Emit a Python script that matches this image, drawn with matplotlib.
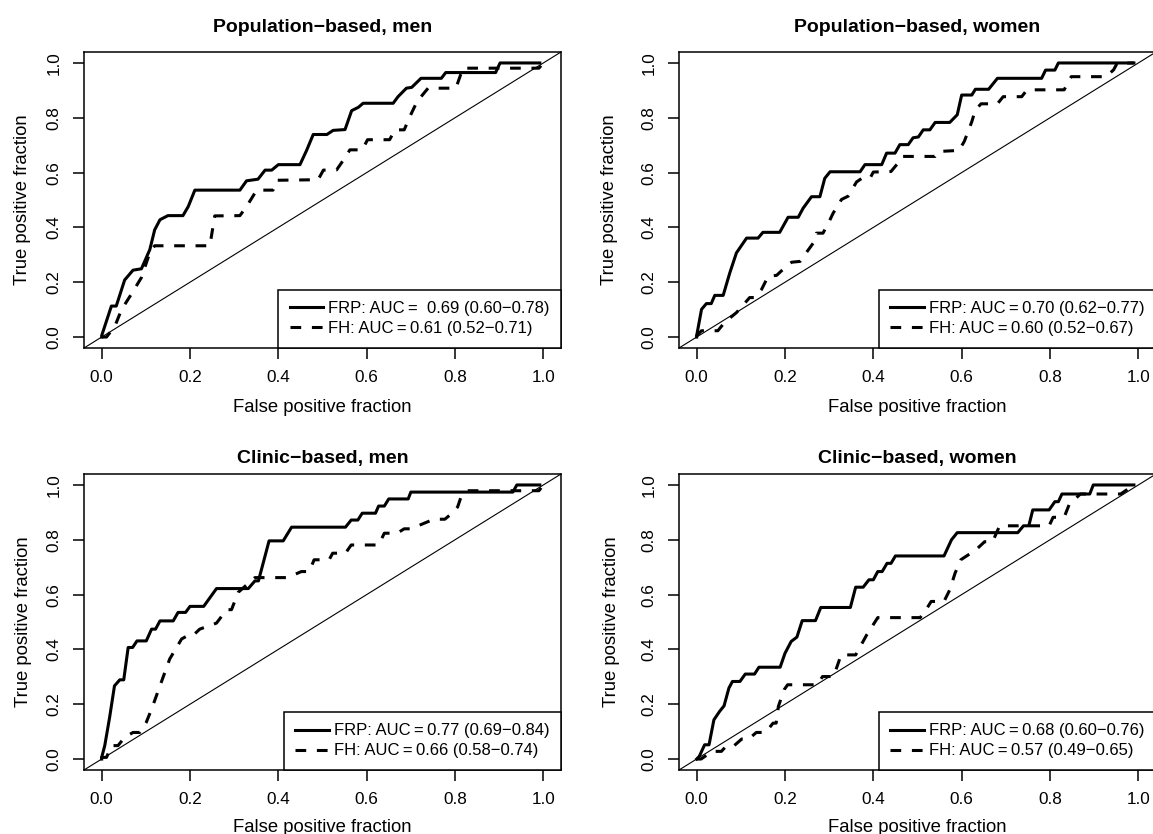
import matplotlib
matplotlib.use("Agg")
import matplotlib.pyplot as plt

plt.rcParams['font.family'] = ['Liberation Sans', 'DejaVu Sans']

# ROC points (false positive fraction, true positive fraction)
pm_frp_x = [0, 0.0, 0.022, 0.033, 0.052, 0.071, 0.09, 0.109, 0.12, 0.132, 0.15, 0.184, 0.196, 0.211,
            0.313, 0.328, 0.354, 0.37, 0.385, 0.40, 0.449, 0.464, 0.479, 0.51, 0.524, 0.551, 0.566,
            0.581, 0.592, 0.66, 0.671, 0.69, 0.702, 0.723, 0.769, 0.779, 0.892, 0.902, 0.992]
pm_frp_y = [0, 0.005, 0.113, 0.113, 0.208, 0.244, 0.249, 0.319, 0.391, 0.428, 0.443, 0.443, 0.476, 0.536,
            0.536, 0.57, 0.576, 0.609, 0.609, 0.629, 0.629, 0.681, 0.739, 0.739, 0.754, 0.757, 0.826,
            0.838, 0.853, 0.853, 0.877, 0.908, 0.911, 0.944, 0.944, 0.965, 0.965, 1.0, 1.0]
pm_fh_x = [0, 0.011, 0.03, 0.045, 0.067, 0.09, 0.109, 0.12, 0.245, 0.256, 0.313, 0.328, 0.351, 0.388,
           0.396, 0.49, 0.502, 0.532, 0.547, 0.562, 0.59, 0.602, 0.652, 0.664, 0.685, 0.698, 0.714,
           0.739, 0.802, 0.818, 0.99, 1.0]
pm_fh_y = [0, 0, 0.04, 0.10, 0.156, 0.217, 0.308, 0.333, 0.333, 0.442, 0.443, 0.476, 0.536, 0.536,
           0.572, 0.574, 0.609, 0.61, 0.645, 0.683, 0.683, 0.72, 0.72, 0.756, 0.756, 0.805, 0.859,
           0.908, 0.908, 0.981, 0.981, 1.0]

pw_frp_x = [0, 0.0, 0.011, 0.022, 0.033, 0.041, 0.06, 0.075, 0.09, 0.113, 0.139, 0.15, 0.188, 0.207,
            0.23, 0.241, 0.26, 0.279, 0.29, 0.302, 0.37, 0.381, 0.419, 0.43, 0.449, 0.46, 0.479, 0.49,
            0.502, 0.513, 0.528, 0.54, 0.573, 0.59, 0.60, 0.623, 0.631, 0.661, 0.681, 0.781, 0.79,
            0.811, 0.819, 0.99]
pw_frp_y = [0, 0.005, 0.101, 0.122, 0.122, 0.152, 0.152, 0.234, 0.307, 0.361, 0.361, 0.382, 0.382, 0.437,
            0.437, 0.47, 0.512, 0.512, 0.579, 0.603, 0.603, 0.629, 0.629, 0.671, 0.671, 0.702, 0.702,
            0.727, 0.73, 0.756, 0.756, 0.783, 0.783, 0.811, 0.883, 0.883, 0.904, 0.904, 0.944, 0.944,
            0.974, 0.974, 1.0, 1.0]
pw_fh_x = [0, 0.0, 0.011, 0.048, 0.063, 0.09, 0.12, 0.132, 0.147, 0.162, 0.181, 0.203, 0.215, 0.234,
           0.264, 0.271, 0.286, 0.298, 0.309, 0.328, 0.343, 0.362, 0.373, 0.392, 0.40, 0.44, 0.456,
           0.465, 0.54, 0.548, 0.594, 0.606, 0.623, 0.631, 0.644, 0.681, 0.694, 0.736, 0.748, 0.832,
           0.848, 0.927, 0.944, 0.952, 0.99]
pw_fh_y = [0, 0.005, 0.023, 0.023, 0.053, 0.089, 0.144, 0.144, 0.174, 0.222, 0.225, 0.258, 0.273, 0.276,
           0.343, 0.379, 0.379, 0.415, 0.452, 0.502, 0.514, 0.566, 0.578, 0.578, 0.602, 0.604, 0.635,
           0.659, 0.659, 0.677, 0.681, 0.714, 0.786, 0.829, 0.851, 0.851, 0.877, 0.877, 0.902, 0.902,
           0.95, 0.95, 0.975, 0.999, 1.0]

cm_frp_x = [0, 0.0, 0.007, 0.018, 0.029, 0.041, 0.05, 0.06, 0.07, 0.08, 0.101, 0.113, 0.122, 0.132,
            0.162, 0.173, 0.19, 0.20, 0.231, 0.26, 0.332, 0.347, 0.355, 0.379, 0.411, 0.43, 0.552,
            0.565, 0.58, 0.59, 0.62, 0.627, 0.64, 0.65, 0.694, 0.70, 0.931, 0.94, 0.992]
cm_frp_y = [0, 0.006, 0.049, 0.152, 0.267, 0.289, 0.289, 0.407, 0.407, 0.431, 0.431, 0.474, 0.474, 0.504,
            0.504, 0.535, 0.535, 0.557, 0.557, 0.622, 0.622, 0.65, 0.65, 0.796, 0.796, 0.846, 0.846,
            0.872, 0.872, 0.897, 0.897, 0.923, 0.923, 0.949, 0.949, 0.974, 0.974, 1.0, 1.0]
cm_fh_x = [0, 0.0, 0.011, 0.022, 0.037, 0.052, 0.071, 0.086, 0.101, 0.113, 0.132, 0.154, 0.181, 0.192,
           0.205, 0.222, 0.26, 0.283, 0.294, 0.309, 0.347, 0.419, 0.435, 0.452, 0.47, 0.481, 0.515,
           0.523, 0.552, 0.565, 0.627, 0.64, 0.669, 0.685, 0.70, 0.752, 0.777, 0.798, 0.806, 0.814,
           0.827, 0.99, 1.0]
cm_fh_y = [0, 0.006, 0.006, 0.049, 0.049, 0.079, 0.097, 0.097, 0.134, 0.182, 0.267, 0.365, 0.438, 0.448,
           0.448, 0.474, 0.496, 0.545, 0.545, 0.608, 0.662, 0.662, 0.672, 0.684, 0.684, 0.727, 0.727,
           0.751, 0.751, 0.781, 0.781, 0.824, 0.824, 0.84, 0.84, 0.875, 0.875, 0.903, 0.92, 0.958,
           0.979, 0.979, 1.0]

cw_frp_x = [0, 0.006, 0.018, 0.028, 0.039, 0.052, 0.062, 0.073, 0.081, 0.098, 0.11, 0.131, 0.141, 0.189,
            0.20, 0.214, 0.227, 0.239, 0.269, 0.281, 0.348, 0.36, 0.377, 0.39, 0.40, 0.41, 0.42, 0.431,
            0.44, 0.45, 0.56, 0.577, 0.59, 0.727, 0.74, 0.752, 0.761, 0.798, 0.811, 0.819, 0.827, 0.89,
            0.898, 0.99]
cw_frp_y = [0, 0.01, 0.052, 0.052, 0.143, 0.174, 0.194, 0.259, 0.283, 0.283, 0.31, 0.31, 0.335, 0.335,
            0.386, 0.429, 0.445, 0.505, 0.505, 0.553, 0.553, 0.627, 0.627, 0.654, 0.654, 0.684, 0.684,
            0.714, 0.714, 0.741, 0.741, 0.8, 0.826, 0.826, 0.851, 0.851, 0.909, 0.909, 0.939, 0.939,
            0.967, 0.967, 1.0, 1.0]
cw_fh_x = [0, 0.01, 0.035, 0.056, 0.068, 0.085, 0.102, 0.118, 0.135, 0.156, 0.173, 0.18, 0.185, 0.198,
           0.206, 0.273, 0.285, 0.31, 0.327, 0.36, 0.385, 0.41, 0.506, 0.519, 0.531, 0.56, 0.573, 0.585,
           0.598, 0.615, 0.636, 0.652, 0.67, 0.686, 0.798, 0.807, 0.832, 0.844, 0.869, 0.96, 0.99]
cw_fh_y = [0, 0, 0.028, 0.028, 0.049, 0.049, 0.073, 0.073, 0.097, 0.097, 0.131, 0.131, 0.192, 0.253,
           0.271, 0.271, 0.301, 0.301, 0.38, 0.38, 0.453, 0.516, 0.516, 0.544, 0.575, 0.575, 0.617,
           0.678, 0.727, 0.745, 0.769, 0.793, 0.793, 0.851, 0.851, 0.882, 0.882, 0.931, 0.967, 0.967,
           1.0]

titles = ["Population\u2212based, men", "Population\u2212based, women",
          "Clinic\u2212based, men", "Clinic\u2212based, women"]
frp_labels = ["FRP: AUC\u2009=  0.69 (0.60\u22120.78)", "FRP: AUC\u2009=\u20090.70 (0.62\u22120.77)",
              "FRP: AUC\u2009=\u20090.77 (0.69\u22120.84)", "FRP: AUC\u2009=\u20090.68 (0.60\u22120.76)"]
fh_labels = ["FH: AUC\u2009=\u20090.61 (0.52\u22120.71)", "FH: AUC\u2009=\u20090.60 (0.52\u22120.67)",
             "FH: AUC\u2009=\u20090.66 (0.58\u22120.74)", "FH: AUC\u2009=\u20090.57 (0.49\u22120.65)"]

curves = [
    (pm_frp_x, pm_frp_y, pm_fh_x, pm_fh_y),
    (pw_frp_x, pw_frp_y, pw_fh_x, pw_fh_y),
    (cm_frp_x, cm_frp_y, cm_fh_x, cm_fh_y),
    (cw_frp_x, cw_frp_y, cw_fh_x, cw_fh_y),
]

W, H = 1153, 834
fig = plt.figure(figsize=(W / 100, H / 100), dpi=100)

# plot boxes in pixels: left, top, right, bottom
boxes = [(84, 52, 561, 348), (679, 52, 1156, 348), (84, 474, 561, 770), (679, 474, 1156, 770)]
title_off = [25, 25, 16, 16]
xlab_off = [60, 60, 57, 57]
ylab_off = [61, 70, 60, 67]

for i, (l, t, r, b) in enumerate(boxes):
    ax = fig.add_axes([l / W, (H - b) / H, (r - l) / W, (b - t) / H])
    fx, fy, hx, hy = curves[i]
    bh = b - t
    bw = r - l

    ax.axline((0, 0), (1, 1), color='black', lw=0.8)
    ax.plot(fx, fy, color='black', lw=2.2, label=frp_labels[i], solid_joinstyle='round')
    ax.plot(hx, hy, color='black', lw=2.2, linestyle=(0, (3.5, 3.5)), label=fh_labels[i])

    ax.set_xlim(-0.04, 1.04)
    ax.set_ylim(-0.04, 1.04)
    ax.set_xticks([0, 0.2, 0.4, 0.6, 0.8, 1.0])
    ax.set_yticks([0, 0.2, 0.4, 0.6, 0.8, 1.0])
    ax.tick_params(direction='out', length=8, width=1.1, pad=8, labelsize=12.3)
    ax.tick_params(axis='y', labelrotation=90)
    for lab in ax.get_yticklabels():
        lab.set_va('center')
    for s in ax.spines.values():
        s.set_linewidth(1.1)

    ax.set_title(titles[i], fontsize=14, fontweight='bold', y=1 + title_off[i] / bh, pad=0, va='center')
    ax.set_xlabel("False positive fraction", fontsize=13.3)
    ax.xaxis.set_label_coords(0.5, -xlab_off[i] / bh)
    ax.xaxis.label.set_va('center')
    ax.set_ylabel("True positive fraction", fontsize=13.3)
    ax.yaxis.set_label_coords(-ylab_off[i] / bw, 0.5)
    ax.yaxis.label.set_va('center')

    leg = ax.legend(loc='lower right', fontsize=12, frameon=True, fancybox=False, framealpha=1,
                    edgecolor='black', borderaxespad=0, handlelength=2.0, handletextpad=0.3,
                    borderpad=0.7, labelspacing=0.3)
    leg.get_frame().set_linewidth(1.1)

fig.savefig("out.png", dpi=100)
